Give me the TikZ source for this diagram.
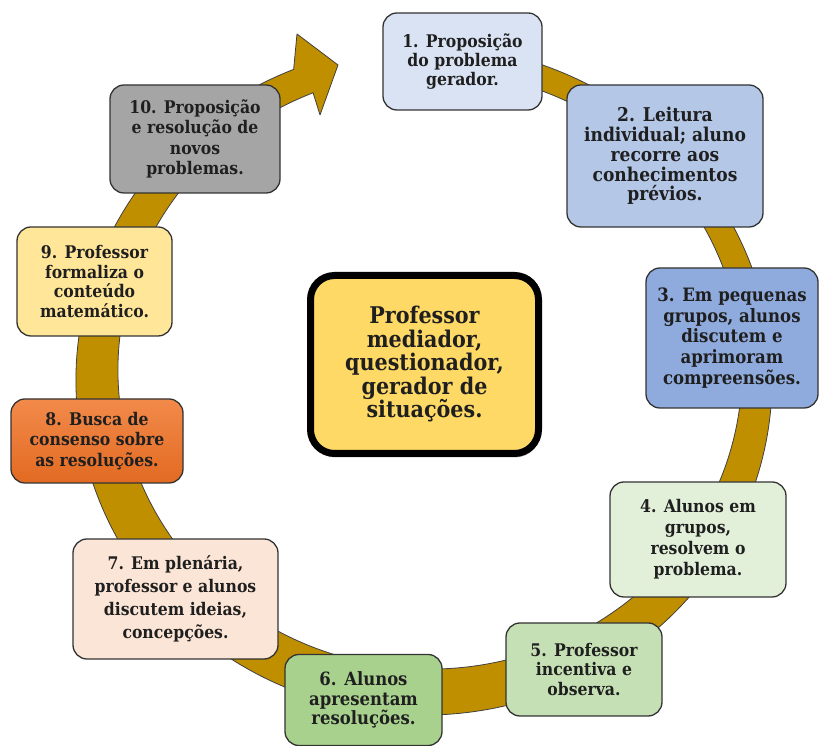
\documentclass[tikz,border=0pt]{standalone}
\usepackage{fontspec}
\setmainfont{DejaVu Serif Condensed}
\usepackage{tikz}
\usetikzlibrary{calc, shadows}

\definecolor{bandgold}{HTML}{BF8F00}
\definecolor{blueA}{HTML}{DAE3F3}
\definecolor{blueB}{HTML}{B4C7E7}
\definecolor{blueC}{HTML}{8FAADC}
\definecolor{greenA}{HTML}{E2F0D9}
\definecolor{greenB}{HTML}{C5E0B4}
\definecolor{greenC}{HTML}{A9D18E}
\definecolor{peach}{HTML}{FBE5D6}
\definecolor{orangeTop}{HTML}{F28A4A}
\definecolor{orangeBot}{HTML}{E26A22}
\definecolor{paleyellow}{HTML}{FFE699}
\definecolor{midgray}{HTML}{A5A5A5}
\definecolor{centeryellow}{HTML}{FFD966}

\newcommand{\boxfont}[2]{\fontsize{#1}{#2}\selectfont\bfseries}

\begin{document}
\begin{tikzpicture}[x=1pt, y=1pt,
    cyc/.style={rectangle, rounded corners=14pt, draw=black!80, line width=1.3pt,
        inner sep=0pt, align=center, text=black!88,
        font=\boxfont{17.4}{20.5}},
    hub/.style={rectangle, rounded corners=24pt, draw=black, line width=7pt,
        fill=centeryellow, inner sep=0pt, align=center, text=black!88,
        minimum width=228pt, minimum height=178pt,
        font=\boxfont{23}{23.5},
        drop shadow={shadow xshift=1pt, shadow yshift=-4pt, fill=black!60, opacity=.45}},
    band/.style={fill=bandgold, draw=black!75, line width=0.8pt, line join=round},
]
\useasboundingbox (0,0) rectangle (819,746);

% Cycle arrow (outer and inner ellipse)
\coordinate (oc) at (424,366);
\coordinate (ic) at (430,376);
\coordinate (headtop) at (297,712);
\coordinate (headtip) at (338,681);
\coordinate (headbot) at (320,631);
\draw[band] ($(oc)+(75:348 and 335)$)
    arc[start angle=75, end angle=-248, x radius=348, y radius=335]
    -- (headtop) -- (headtip) -- (headbot)
    -- ($(ic)+(-248:312 and 299)$)
    arc[start angle=-248, end angle=75, x radius=312, y radius=299] -- cycle;

% Center
\node[hub] (prof) at (424.5,381.5) {Professor\\mediador,\\questionador,\\gerador de\\situações.};

% Stages
\node[cyc, fill=blueA, minimum width=159pt, minimum height=97pt, font=\boxfont{17.4}{19.2}] (p1) at (462.5,684.5)
    {1. Proposição\\do problema\\gerador.};
\node[cyc, fill=blueB, minimum width=196pt, minimum height=142pt, font=\boxfont{19}{19.8}] (p2) at (665,590)
    {2. Leitura\\individual; aluno\\recorre aos\\conhecimentos\\prévios.};
\node[cyc, fill=blueC, minimum width=172pt, minimum height=140pt, font=\boxfont{18.4}{20.7}] (p3) at (732,408)
    {3. Em pequenas\\grupos, alunos\\discutem e\\aprimoram\\compreensões.};
\node[cyc, fill=greenA, minimum width=176pt, minimum height=115pt, font=\boxfont{17.4}{20.9}] (p4) at (698,206.5)
    {4. Alunos em\\grupos,\\resolvem o\\problema.};
\node[cyc, fill=greenB, minimum width=156pt, minimum height=93pt, font=\boxfont{17.4}{19.7}] (p5) at (584,76.5)
    {5. Professor\\incentiva e\\observa.};
\node[cyc, fill=greenC, minimum width=157pt, minimum height=91pt, font=\boxfont{18.3}{19.5}] (p6) at (363.5,46)
    {6. Alunos\\apresentam\\resoluções.};
\node[cyc, fill=peach, minimum width=205pt, minimum height=120pt, font=\boxfont{17.4}{23}] (p7) at (175.5,147)
    {7. Em plenária,\\professor e alunos\\discutem ideias,\\concepções.};
\node[cyc, top color=orangeTop, bottom color=orangeBot, minimum width=172pt, minimum height=84pt] (p8) at (97,305)
    {8. Busca de\\consenso sobre\\as resoluções.};
\node[cyc, fill=paleyellow, minimum width=155pt, minimum height=109pt, font=\boxfont{17.4}{19.8}] (p9) at (94.5,464.5)
    {9. Professor\\formaliza o\\conteúdo\\matemático.};
\node[cyc, fill=midgray, minimum width=170pt, minimum height=108pt, font=\boxfont{17.4}{20.2}] (p10) at (195,607)
    {10. Proposição\\e resolução de\\novos\\problemas.};
\end{tikzpicture}
\end{document}
